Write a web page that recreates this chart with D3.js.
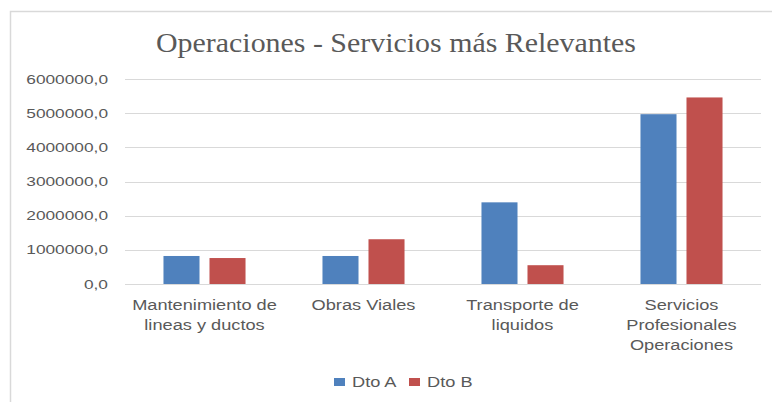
<!DOCTYPE html>
<html>
<head>
<meta charset="utf-8">
<script src="https://cdn.jsdelivr.net/npm/d3@7"></script>
<style>
    body { margin: 0; background: #fff; }
    svg { display: block; }
</style>
</head>
<body>
<script>
// chart data
var categories = [
    ["Mantenimiento de", "lineas y ductos"],
    ["Obras Viales"],
    ["Transporte de", "liquidos"],
    ["Servicios", "Profesionales", "Operaciones"]
];
var seriesNames = ["Dto A", "Dto B"];
var dtoA = [820000, 820000, 2390000, 4970000];
var dtoB = [760000, 1310000, 550000, 5460000];
var yTicks = [0, 1000000, 2000000, 3000000, 4000000, 5000000, 6000000];
var colors = ["#4f81bd", "#c0504d"];

window.onload = (event) => {
    setChart();
};

// widen text horizontally, the source picture is stretched
function stretch(sel, factor) {
    sel.each(function() {
        var w = this.getComputedTextLength();
        d3.select(this)
            .attr("textLength", w * factor)
            .attr("lengthAdjust", "spacingAndGlyphs");
    });
}

function setChart() {
    var width = 772,
        height = 402,
        margin = {top: 79, right: 11, bottom: 118, left: 125};

    var svg = d3.select("body")
        .append("svg")
        .attr("width", width)
        .attr("height", height);

    // chart frame (right side runs past the window)
    svg.append("rect")
        .attr("x", 10.5)
        .attr("y", 11.5)
        .attr("width", 800)
        .attr("height", 420)
        .attr("fill", "none")
        .attr("stroke", "#d9d9d9")
        .attr("stroke-width", 1.5);

    var title = svg.append("text")
        .attr("x", 156)
        .attr("y", 52)
        .attr("font-family", "Liberation Serif")
        .attr("font-size", 27)
        .attr("fill", "#595959")
        .text("Operaciones - Servicios más Relevantes");
    title.attr("textLength", 480).attr("lengthAdjust", "spacingAndGlyphs");

    var x0 = d3.scaleBand()
        .domain(d3.range(categories.length))
        .range([margin.left, width - margin.right])
        .paddingInner(0.484)
        .paddingOuter(0.242);

    var x1 = d3.scaleBand()
        .domain(seriesNames)
        .range([0, x0.bandwidth()])
        .paddingInner(0.217);

    var y = d3.scaleLinear()
        .domain([0, 6000000])
        .range([height - margin.bottom, margin.top]);

    var fmt = function(d) { return d3.format(".1f")(d).replace(".", ","); };

    // gridlines
    svg.append("g")
        .selectAll("line")
        .data(yTicks)
        .enter()
        .append("line")
        .attr("x1", margin.left)
        .attr("x2", width - margin.right)
        .attr("y1", function(d) { return Math.round(y(d)) + 0.5; })
        .attr("y2", function(d) { return Math.round(y(d)) + 0.5; })
        .attr("stroke", "#d9d9d9")
        .attr("stroke-width", 1.2);

    // y tick labels
    var yLabels = svg.append("g")
        .selectAll("text")
        .data(yTicks)
        .enter()
        .append("text")
        .attr("x", 108)
        .attr("y", function(d) { return y(d) + 4.5; })
        .attr("text-anchor", "end")
        .attr("font-family", "Liberation Sans")
        .attr("font-size", 13)
        .attr("fill", "#595959")
        .text(fmt);
    stretch(yLabels, 1.33);

    // bars
    var rows = categories.map(function(c, i) {
        return [{s: seriesNames[0], v: dtoA[i], c: colors[0]},
                {s: seriesNames[1], v: dtoB[i], c: colors[1]}];
    });

    var groups = svg.append("g")
        .selectAll("g")
        .data(rows)
        .enter()
        .append("g")
        .attr("transform", function(d, i) { return "translate(" + x0(i) + ",0)"; });

    groups.selectAll("rect")
        .data(function(d) { return d; })
        .enter()
        .append("rect")
        .attr("x", function(d) { return x1(d.s); })
        .attr("width", x1.bandwidth())
        .attr("y", function(d) { return y(d.v); })
        .attr("height", function(d) { return y(0) - y(d.v); })
        .attr("fill", function(d) { return d.c; });

    // category labels
    var catLabels = svg.append("g")
        .selectAll("g")
        .data(categories)
        .enter()
        .append("g");

    catLabels.selectAll("text")
        .data(function(d, i) {
            return d.map(function(line, j) { return {line: line, i: i, j: j}; });
        })
        .enter()
        .append("text")
        .attr("x", function(d) { return x0(d.i) + x0.bandwidth() / 2; })
        .attr("y", function(d) { return 310 + d.j * 20; })
        .attr("text-anchor", "middle")
        .attr("font-family", "Liberation Sans")
        .attr("font-size", 14)
        .attr("fill", "#595959")
        .text(function(d) { return d.line; })
        .call(stretch, 1.3);

    // legend
    var legend = svg.append("g")
        .selectAll("g")
        .data(seriesNames)
        .enter()
        .append("g")
        .attr("transform", function(d, i) { return "translate(" + (334 + i * 75) + ",378)"; });

    legend.append("rect")
        .attr("width", 11)
        .attr("height", 8)
        .attr("fill", function(d, i) { return colors[i]; });

    legend.append("text")
        .attr("x", 18)
        .attr("y", 9)
        .attr("font-family", "Liberation Sans")
        .attr("font-size", 14)
        .attr("fill", "#595959")
        .text(function(d) { return d; })
        .call(stretch, 1.3);
}
</script>
</body>
</html>
